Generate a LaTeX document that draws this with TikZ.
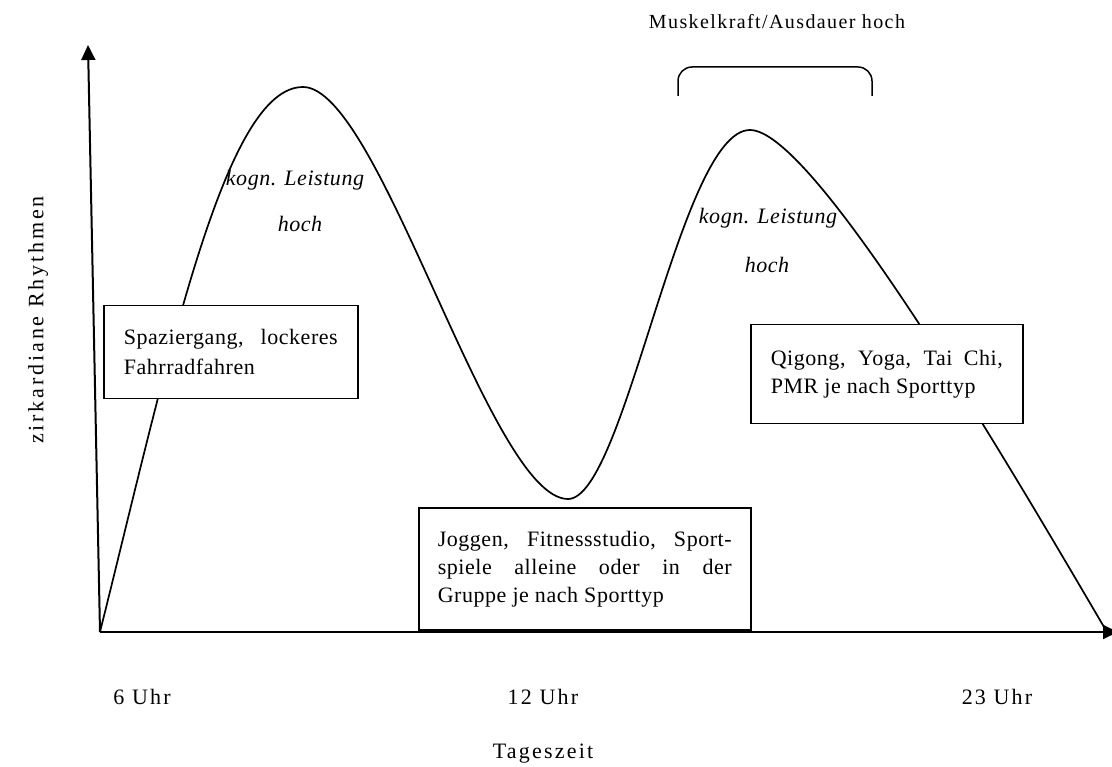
\documentclass[tikz,border=0pt]{standalone}
\usepackage{fontspec}
\setmainfont{Liberation Serif}
\newfontfamily\boxfont[LetterSpace=2.5]{Liberation Serif}
\newfontfamily\axisfont[LetterSpace=10]{Liberation Serif}
\newfontfamily\wideaxisfont[LetterSpace=13]{Liberation Serif}
\newfontfamily\notefont[LetterSpace=7]{Liberation Serif}
\usetikzlibrary{arrows.meta,positioning}

\begin{document}
\begin{tikzpicture}[
x=1pt,y=-1pt,
axis/.style={line width=2pt,-{Triangle[length=15pt,width=14pt]}},
curve/.style={line width=1.7pt},
activity/.style={draw,fill=white,line width=1.5pt,anchor=north west,align=justify,
  inner xsep=20pt,inner ysep=0pt,font=\boxfont\fontsize{22}{28}\selectfont},
peak/.style={font=\boxfont\itshape\fontsize{22}{28}\selectfont},
ticklabel/.style={font=\axisfont\fontsize{22}{26}\selectfont}
]
\useasboundingbox (0,0) rectangle (1112,767);
\coordinate (origin) at (100,632);
\coordinate (ytop) at (88,45);
\coordinate (xend) at (1118,632);
\draw[axis] (origin) -- (ytop);
\draw[axis] (origin) -- (xend);
\draw[curve] (origin) .. controls (170,351) and (225,87) .. (303,87)
 .. controls (380,87) and (490,499) .. (568,499)
 .. controls (625,499) and (680,130) .. (750,130)
 .. controls (810,130) and (987,427) .. (1104,627);
\node[activity,text width=214pt,minimum height=93pt,
 font=\boxfont\fontsize{22}{30}\selectfont] (walk) at (103,305)
 {Spaziergang, lockeres\linebreak Fahrradfahren};
\node[activity,text width=294pt,inner xsep=19pt,minimum height=122pt] (jog) at (418,507)
 {Joggen, Fitnessstudio, Sport-\linebreak spiele alleine oder in der\linebreak Gruppe je nach Sporttyp};
\node[activity,text width=232pt,minimum height=99pt] (yoga) at (750,324)
 {Qigong, Yoga, Tai Chi,\linebreak PMR je nach Sporttyp};
\node[peak] (kognA) at (295,180) {kogn. Leistung};
\node[peak] (hochA) at (300,224) {hoch};
\node[peak] (kognB) at (768,218) {kogn. Leistung};
\node[peak] (hochB) at (767,265) {hoch};
\draw[line width=1.5pt,rounded corners=14pt] (678,96) -- (678,67) -- (872,67) -- (872,96);
\node[font=\notefont\fontsize{20}{24}\selectfont] (muskel) at (777,22) {Muskelkraft/Ausdauer hoch};
\node[ticklabel] (six) at (142,697) {6 Uhr};
\node[ticklabel] (twelve) at (543,697) {12 Uhr};
\node[ticklabel] (twentythree) at (997,697) {23 Uhr};
\node[ticklabel] (time) at (543,754) {Tageszeit};
\node[ticklabel,font=\wideaxisfont\fontsize{22}{26}\selectfont,rotate=90] (rhythm) at (38,320)
 {zirkardiane Rhythmen};
\end{tikzpicture}
\end{document}
